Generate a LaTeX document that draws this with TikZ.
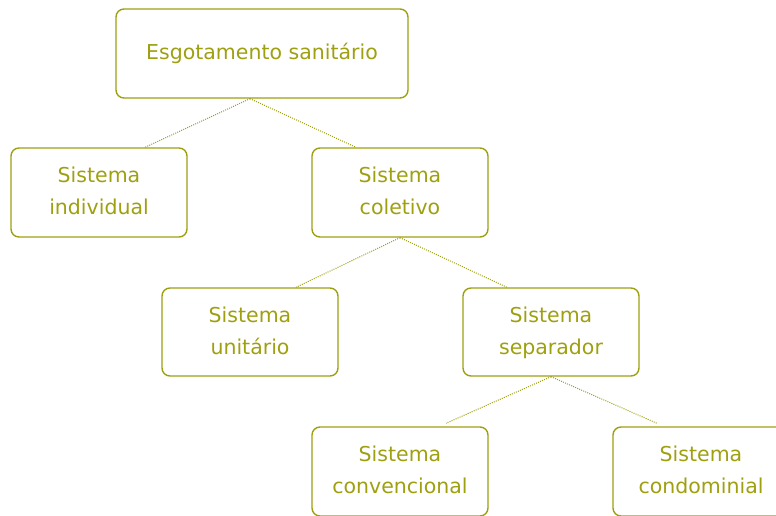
\documentclass[tikz,border=0pt]{standalone}
\usepackage{fontspec}
\setmainfont{DejaVu Sans}
\definecolor{olive}{RGB}{158,160,16}
\newcommand{\twolines}[2]{\strut #1\\\strut #2}
\begin{document}
\begin{tikzpicture}[x=1pt,y=1pt,
  box/.style={draw=olive, line width=1.4pt, rounded corners=8pt, text=olive,
    minimum width=176pt, minimum height=89pt, align=center, inner sep=0pt,
    font=\fontsize{20.5}{32}\selectfont},
  conn/.style={draw=olive, line width=1pt, dash pattern=on 1pt off 1.2pt}]
\useasboundingbox (0,0) rectangle (776,515);
\begin{scope}
\clip (0,0) rectangle (776,515);
\node[box, minimum width=292pt] (top) at (262,461.5) {\strut Esgotamento sanitário};
\node[box] (ind) at (99,322.5) {\twolines{Sistema}{individual}};
\node[box] (col) at (400,322.5) {\twolines{Sistema}{coletivo}};
\node[box, minimum height=88pt] (uni) at (250,183) {\twolines{Sistema}{unitário}};
\node[box, minimum height=88pt] (sep) at (551,183) {\twolines{Sistema}{separador}};
\node[box] (conv) at (400,43.5) {\twolines{Sistema}{convencional}};
\node[box] (cond) at (701,43.5) {\twolines{Sistema}{condominial}};
\draw[conn] ([xshift=-12pt]top.south) -- ([xshift=46pt]ind.north);
\draw[conn] ([xshift=-12pt]top.south) -- ([xshift=-44pt]col.north);
\draw[conn] (col.south) -- ([xshift=46pt]uni.north);
\draw[conn] (col.south) -- ([xshift=-44pt]sep.north);
\draw[conn] (sep.south) -- ([xshift=46pt,yshift=3pt]conv.north);
\draw[conn] (sep.south) -- ([xshift=-44pt,yshift=3pt]cond.north);
\end{scope}
\end{tikzpicture}
\end{document}
